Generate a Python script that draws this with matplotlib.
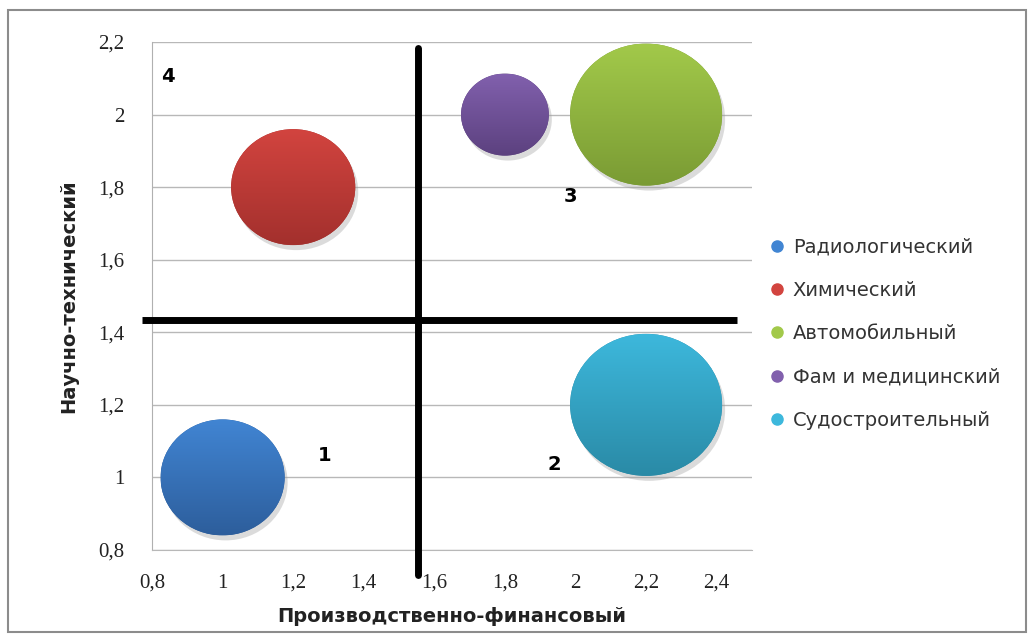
import numpy as np
import matplotlib
matplotlib.use("Agg")
from matplotlib import pyplot as plt
from matplotlib.patches import Ellipse, Rectangle
from matplotlib.colors import LinearSegmentedColormap
from matplotlib.lines import Line2D

# отрасли: производственно-финансовый (x), научно-технический (y), размер пузыря
names = ["Радиологический", "Химический", "Автомобильный", "Фам и медицинский", "Судостроительный"]
x_vals = [1.0, 1.2, 2.2, 1.8, 2.2]
y_vals = [1.0, 1.8, 2.0, 2.0, 1.2]
sizes = [2, 2, 3, 1, 3]
top_colors = ["#4185d3", "#d2443f", "#a2c94a", "#8160ad", "#3db8dc"]
bottom_colors = ["#2d5e9c", "#a3302d", "#7a9b34", "#5c417f", "#2a8aa6"]

# квадранты
quad_labels = ["1", "2", "3", "4"]
quad_x = [1.29, 1.94, 1.985, 0.845]
quad_y = [1.06, 1.035, 1.775, 2.105]

# разделительные линии
split_x = 1.553
split_y = 1.434

x_ticks = [0.8, 1.0, 1.2, 1.4, 1.6, 1.8, 2.0, 2.2, 2.4]
y_ticks = [0.8, 1.0, 1.2, 1.4, 1.6, 1.8, 2.0, 2.2]

fig = plt.figure(figsize=(10.34, 6.35), dpi=100)
ax = fig.add_axes([152 / 1034, 85 / 635, 600 / 1034, 508 / 635])
ax.set_xlim(0.8, 2.5)
ax.set_ylim(0.8, 2.2)

# рамка диаграммы
fig.patches.append(Rectangle((8 / 1034, 3 / 635), 1018 / 1034, 622 / 635,
                             transform=fig.transFigure, fill=False,
                             edgecolor="#8c8c8c", lw=1.5))

for s in ["top", "right"]:
    ax.spines[s].set_visible(False)
ax.spines["left"].set_color("#b0b0b0")
ax.spines["bottom"].set_color("#b8b8b8")
ax.set_axisbelow(True)
ax.yaxis.grid(True, color="#b8b8b8", lw=1)
ax.set_xticks(x_ticks)
ax.set_yticks(y_ticks)
fmt = lambda v: ("%g" % v).replace(".", ",")
ax.set_xticklabels([fmt(v) for v in x_ticks])
ax.set_yticklabels([fmt(v) for v in y_ticks])
ax.tick_params(length=0, labelsize=15, labelcolor="#222222")
ax.tick_params(axis="x", pad=17)
ax.tick_params(axis="y", pad=20)
for lab in ax.get_xticklabels() + ax.get_yticklabels():
    lab.set_family("Liberation Serif")

ax.set_xlabel("Производственно-финансовый", fontsize=14, fontweight="bold",
              color="#222222", labelpad=10)
ax.set_ylabel("Научно-технический", fontsize=14, fontweight="bold",
              color="#222222", labelpad=14)

# пересчёт пикселей в единицы данных
p0 = ax.transData.transform((0, 0))
p1 = ax.transData.transform((1, 1))
px_x = p1[0] - p0[0]
px_y = p1[1] - p0[1]
max_rx, max_ry = 76, 71  # полуоси самого крупного пузыря, px

for i in range(len(names)):
    k = np.sqrt(sizes[i] / max(sizes))
    w = 2 * max_rx * k / px_x
    h = 2 * max_ry * k / px_y
    # тень
    sh = Ellipse((x_vals[i] + 3 / px_x, y_vals[i] - 5 / px_y), w, h,
                 facecolor="#9a9a9a", edgecolor="none", alpha=0.35, zorder=2)
    ax.add_patch(sh)
    ell = Ellipse((x_vals[i], y_vals[i]), w, h, facecolor=bottom_colors[i],
                  edgecolor="none", zorder=3)
    ax.add_patch(ell)
    cmap = LinearSegmentedColormap.from_list("g%d" % i, [bottom_colors[i], top_colors[i]])
    grad = np.linspace(0, 1, 256).reshape(-1, 1)
    im = ax.imshow(grad, cmap=cmap, origin="lower", aspect="auto",
                   extent=(x_vals[i] - w / 2, x_vals[i] + w / 2,
                           y_vals[i] - h / 2, y_vals[i] + h / 2), zorder=4)
    im.set_clip_path(ell)

ax.set_xlim(0.8, 2.5)
ax.set_ylim(0.8, 2.2)

# линии квадрантов
ax.plot([split_x, split_x], [0.731, 2.183], color="black", lw=5,
        solid_capstyle="round", clip_on=False, zorder=6)
ax.plot([0.772, 2.457], [split_y, split_y], color="black", lw=5,
        solid_capstyle="butt", clip_on=False, zorder=6)

for t, qx, qy in zip(quad_labels, quad_x, quad_y):
    ax.text(qx, qy, t, fontsize=14, fontweight="bold", color="black",
            ha="center", va="center", zorder=7)

handles = [Line2D([], [], ls="none", marker="o", markersize=8,
                  markerfacecolor=c, markeredgecolor=c) for c in top_colors]
fig.legend(handles, names, loc="upper left", bbox_to_anchor=(750 / 1034, 1 - 220 / 635),
           frameon=False, fontsize=14, labelspacing=1.25, handletextpad=0.3,
           handlelength=1.0, labelcolor="#333333")

fig.savefig("out.png", dpi=100)
